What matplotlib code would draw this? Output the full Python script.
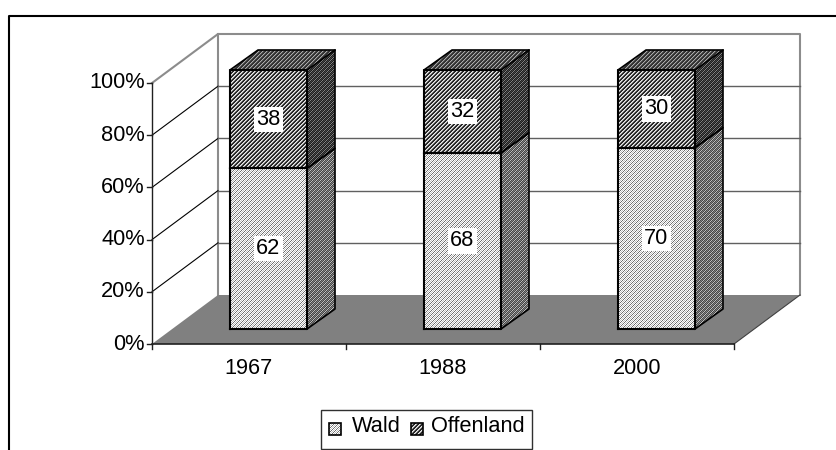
"""Stacked 3D-style column chart: Wald / Offenland share per year."""
import numpy as np
import matplotlib
matplotlib.use('Agg')
import matplotlib.pyplot as plt
from matplotlib.patches import Polygon, Rectangle

YEARS = ['1967', '1988', '2000']
WALD = [62, 68, 70]
OFFENLAND = [38, 32, 30]
Y_TICKS = [0, 20, 40, 60, 80, 100]

W, H = 837, 450

# plot geometry in pixels
X0, X1 = 152, 734        # front floor edge
Y0, Y100 = 344, 83       # front axis
DX, DY = 66, 49          # wall offset of the back plane
BAR_W = 77
BAR_DX, BAR_DY = 28, 20  # bar depth
BAR_Y0, BAR_Y100 = 329, 70
BAR_LEFT0 = 230
STEP = (X1 - X0) / len(YEARS)
FS = 15.7

plt.rcParams['font.family'] = ['Liberation Sans', 'DejaVu Sans']

# pixel dither tiles (grey levels) for the print-style fills
TILE_LIGHT = [[255, 110, 255, 190], [110, 255, 190, 255], [255, 190, 255, 110], [190, 255, 110, 255]]
TILE_DARK = [[40, 235, 170, 40], [235, 170, 40, 40], [170, 40, 40, 235], [40, 40, 235, 170]]
TILE_SIDE_L = [[70, 190, 70, 130], [190, 70, 130, 70], [70, 130, 70, 190], [130, 70, 190, 70]]
TILE_SIDE_D = [[30, 130, 30, 70], [130, 30, 70, 30], [30, 70, 30, 130], [70, 30, 130, 30]]
TILE_TOP = [[50, 170, 90, 50], [170, 90, 50, 50], [90, 50, 50, 170], [50, 50, 170, 90]]


def front_y(pct):
    return Y0 + (Y100 - Y0) * pct / 100


def bar_y(pct):
    return BAR_Y0 + (BAR_Y100 - BAR_Y0) * pct / 100


def fill_texture(ax, pts, tile, zorder=4):
    """Fill a polygon with a repeated pixel tile, one tile pixel per figure pixel."""
    pts = np.array(pts, dtype=float)
    x0, y0 = np.floor(pts.min(axis=0)).astype(int)
    x1, y1 = np.ceil(pts.max(axis=0)).astype(int)
    tile = np.array(tile)
    ny, nx = y1 - y0, x1 - x0
    reps = (ny // tile.shape[0] + 1, nx // tile.shape[1] + 1)
    img = np.tile(tile, reps)[:ny, :nx]
    im = ax.imshow(img, cmap='gray', vmin=0, vmax=255, extent=(x0, x1, y1, y0),
                   interpolation='nearest', aspect='auto', zorder=zorder)
    patch = Polygon(pts, transform=ax.transData, facecolor='none', edgecolor='none')
    ax.add_patch(patch)
    im.set_clip_path(patch)


def draw_segment(ax, left, bottom, top, front_tile, side_tile, top_tile=None):
    right = left + BAR_W
    y_b, y_t = bar_y(bottom), bar_y(top)
    fill_texture(ax, [(right, y_b), (right + BAR_DX, y_b - BAR_DY),
                      (right + BAR_DX, y_t - BAR_DY), (right, y_t)], side_tile)
    fill_texture(ax, [(left, y_b), (right, y_b), (right, y_t), (left, y_t)], front_tile)
    if top_tile:
        fill_texture(ax, [(left, y_t), (right, y_t), (right + BAR_DX, y_t - BAR_DY),
                          (left + BAR_DX, y_t - BAR_DY)], top_tile)
    # outlines
    ax.plot([left, right, right, left, left], [y_b, y_b, y_t, y_t, y_b], color='black', lw=1.5, zorder=5)
    ax.plot([right, right + BAR_DX, right + BAR_DX, right],
            [y_b, y_b - BAR_DY, y_t - BAR_DY, y_t], color='black', lw=1.2, zorder=5)
    if top_tile:
        ax.plot([left, left + BAR_DX, right + BAR_DX], [y_t, y_t - BAR_DY, y_t - BAR_DY],
                color='black', lw=1.2, zorder=5)


def legend_key(ax, x, tile):
    fill_texture(ax, [(x, 423), (x + 12, 423), (x + 12, 435), (x, 435)], tile, zorder=7)
    ax.add_patch(Rectangle((x, 423), 12, 12, facecolor='none', edgecolor='black', lw=1.2, zorder=8))


fig = plt.figure(figsize=(W / 100, H / 100), dpi=100)
ax = fig.add_axes([0, 0, 1, 1])

# outer frame: left and top only, as the picture is cropped
ax.plot([9, 9, W], [H, 15.5, 15.5], color='black', lw=1.5, zorder=1)

# back and side walls
back_top = front_y(100) - DY
back_bot = front_y(0) - DY
ax.plot([X0, X0 + DX, X1 + DX, X1 + DX], [front_y(100), back_top, back_top, back_bot],
        color='#8c8c8c', lw=1.5, zorder=2)
ax.plot([X0 + DX, X0 + DX], [back_top, back_bot], color='#8c8c8c', lw=1.5, zorder=2)

# floor
ax.add_patch(Polygon([(X0, Y0), (X1, Y0), (X1 + DX, back_bot), (X0 + DX, back_bot)],
                     facecolor='#808080', edgecolor='none', zorder=2))
ax.plot([X1, X1 + DX], [Y0, back_bot], color='#404040', lw=0.8, zorder=2)

# gridlines on side and back wall
for pct in Y_TICKS[1:-1]:
    y = front_y(pct)
    ax.plot([X0, X0 + DX], [y, y - DY], color='black', lw=0.8, zorder=3)
    ax.plot([X0 + DX, X1 + DX], [y - DY, y - DY], color='#606060', lw=1.0, zorder=3)

# axes with ticks
ax.plot([X0, X0], [Y0, Y100], color='#202020', lw=1.0, zorder=6)
ax.plot([X0, X1], [Y0, Y0], color='#202020', lw=1.2, zorder=6)
for pct in Y_TICKS:
    y = front_y(pct)
    ax.plot([X0 - 5, X0], [y, y], color='#202020', lw=1.0, zorder=6)
    ax.text(X0 - 7, y, f'{pct}%', ha='right', va='center', fontsize=FS, color='black', zorder=6)
for i in range(len(YEARS) + 1):
    x = X0 + i * STEP
    ax.plot([x, x], [Y0, Y0 + 5], color='#202020', lw=1.0, zorder=6)

# columns
for i, year in enumerate(YEARS):
    left = BAR_LEFT0 + i * STEP
    wald, off = WALD[i], OFFENLAND[i]
    draw_segment(ax, left, 0, wald, TILE_LIGHT, TILE_SIDE_L)
    draw_segment(ax, left, wald, wald + off, TILE_DARK, TILE_SIDE_D, TILE_TOP)
    cx = left + BAR_W / 2
    for pos, val in ((wald / 2, wald), (wald + off / 2, off)):
        ax.text(cx, bar_y(pos), str(val), ha='center', va='center', fontsize=FS, color='black',
                zorder=7, bbox=dict(facecolor='white', edgecolor='none', pad=1.5))
    ax.text(X0 + (i + 0.5) * STEP, 368, year, ha='center', va='center', fontsize=FS, color='black', zorder=6)

# legend
ax.add_patch(Rectangle((321.5, 409.5), 211, 39, facecolor='white', edgecolor='#303030', lw=1.0, zorder=6))
legend_key(ax, 329, TILE_LIGHT)
ax.text(352, 427, 'Wald', ha='left', va='center', fontsize=FS, color='black', zorder=7)
legend_key(ax, 411, TILE_DARK)
ax.text(431, 427, 'Offenland', ha='left', va='center', fontsize=FS, color='black', zorder=7)

ax.set_xlim(0, W)
ax.set_ylim(H, 0)
ax.axis('off')

fig.savefig('out.png', dpi=100)
